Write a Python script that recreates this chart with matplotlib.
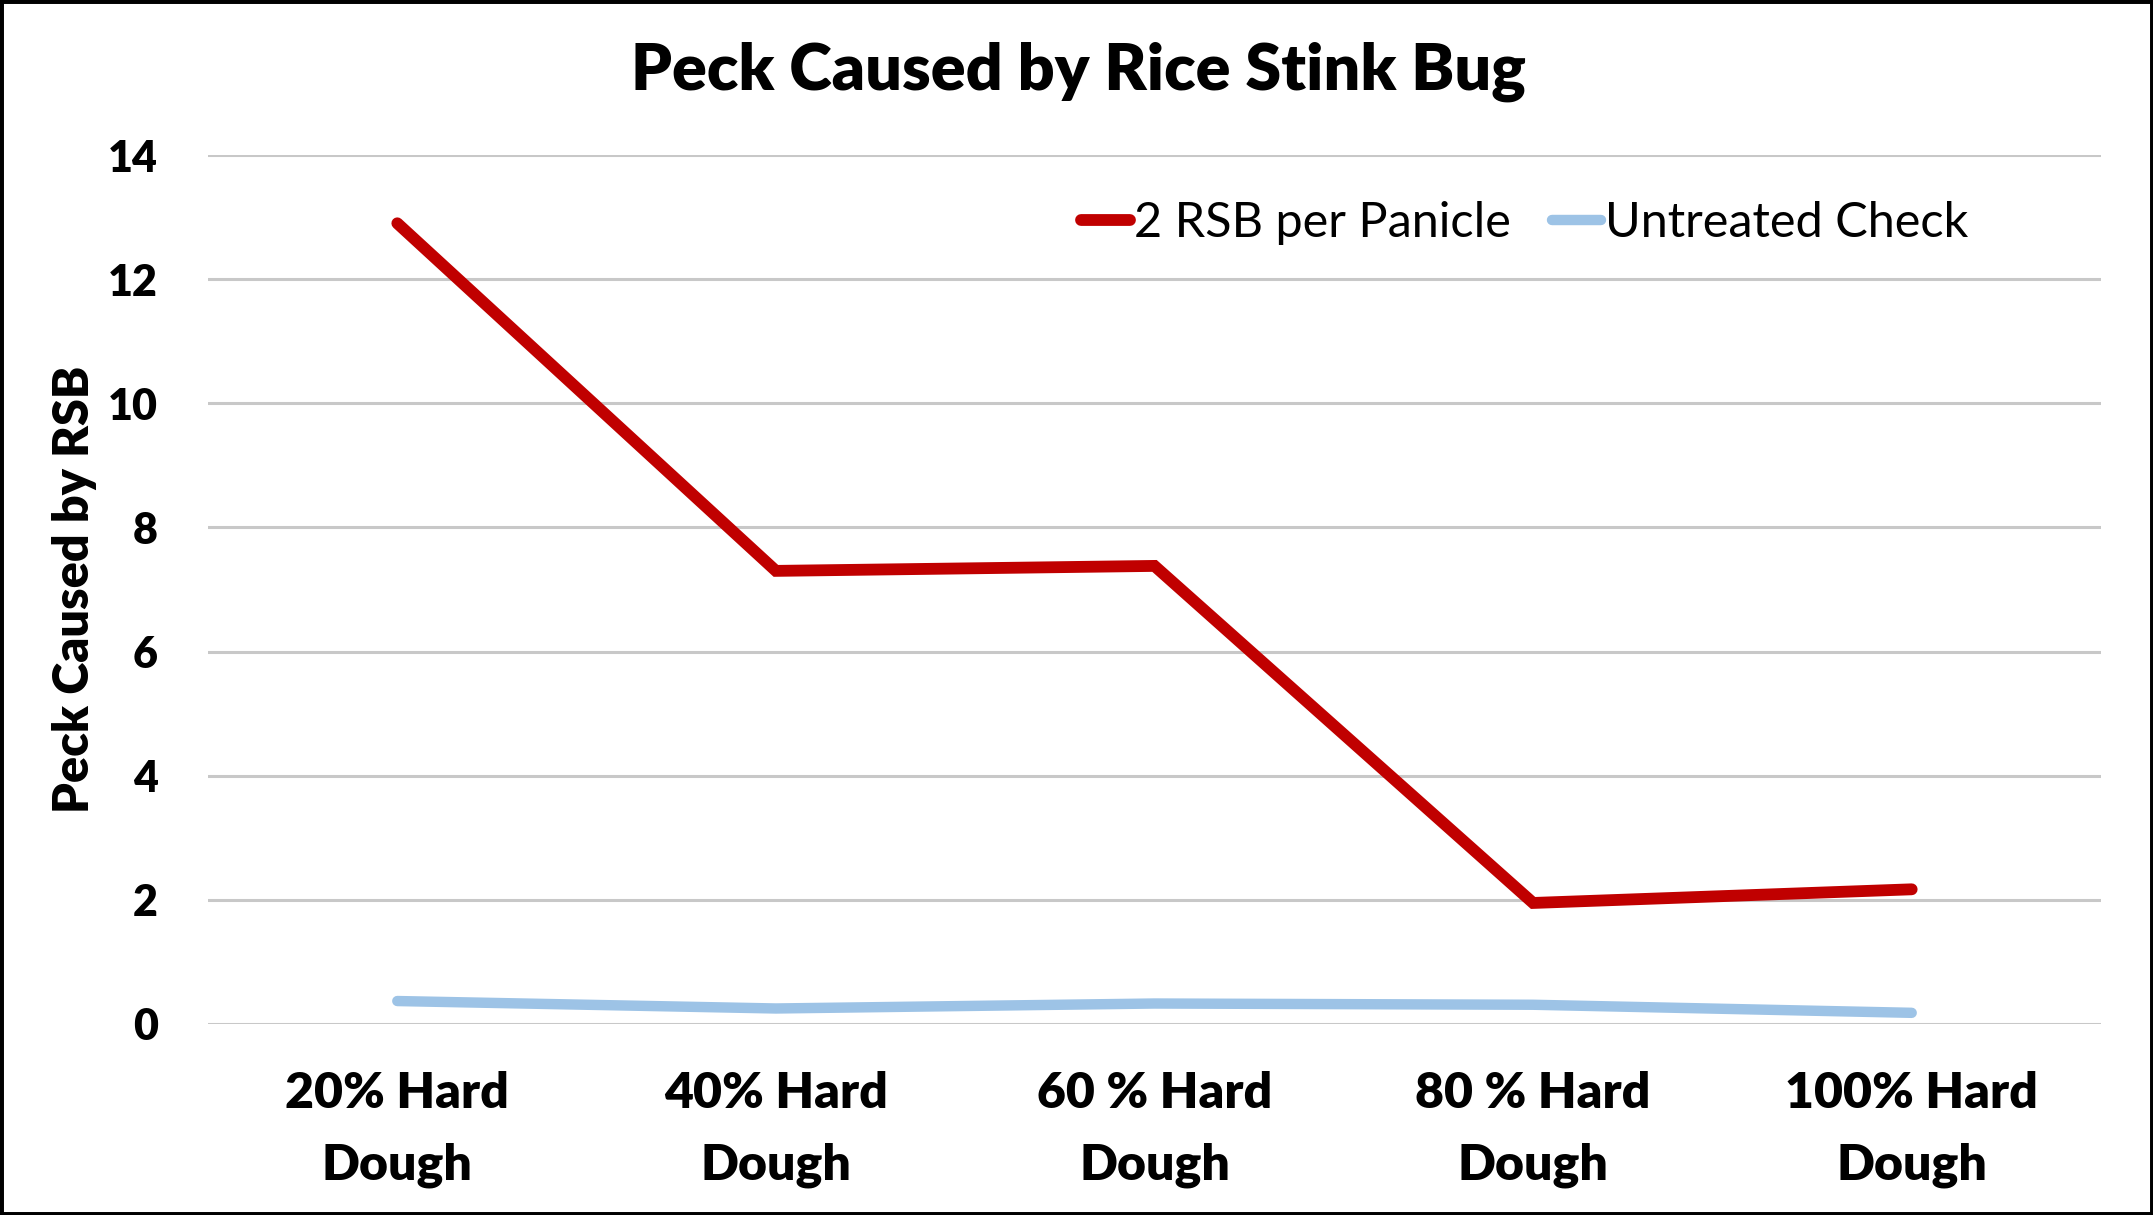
import matplotlib
matplotlib.use("Agg")
import matplotlib.pyplot as plt
from matplotlib.patches import Rectangle

categories = ["20% Hard\nDough", "40% Hard\nDough", "60 % Hard\nDough", "80 % Hard\nDough", "100% Hard\nDough"]
rsb_values = [12.9, 7.3, 7.38, 1.95, 2.17]
check_values = [0.37, 0.25, 0.33, 0.31, 0.18]
series_names = ["2 RSB per Panicle", "Untreated Check"]
yticks = [0, 2, 4, 6, 8, 10, 12, 14]

plt.rcParams['font.family'] = ['Lato', 'DejaVu Sans']

W, H = 2153, 1215
fig = plt.figure(figsize=(W / 100, H / 100), dpi=100)
ax = fig.add_axes([208 / W, 1 - 1024 / H, (2101 - 208) / W, (1024 - 155) / H])

x = list(range(len(categories)))
ax.plot(x, rsb_values, color='#C00000', lw=8.5, solid_capstyle='round',
        solid_joinstyle='miter', label=series_names[0], zorder=3)
ax.plot(x, check_values, color='#9DC3E6', lw=7.5, solid_capstyle='round',
        solid_joinstyle='miter', label=series_names[1], zorder=3)

ax.set_xlim(-0.5, len(categories) - 0.5)
ax.set_ylim(0, 14)
ax.set_yticks(yticks)
ax.set_yticklabels([str(v) for v in yticks], fontsize=31, fontweight='heavy')
ax.set_xticks(x)
ax.set_xticklabels(categories, fontsize=36, fontweight='heavy', linespacing=1.7)
ax.tick_params(axis='both', length=0)
ax.tick_params(axis='y', pad=36)
ax.tick_params(axis='x', pad=34)
ax.grid(axis='y', color='#C8C8C8', lw=2.2)
ax.set_axisbelow(True)
for s in ax.spines.values():
    s.set_visible(False)

ax.set_ylabel("Peck Caused by RSB", fontsize=35, fontweight='heavy', labelpad=8)

fig.text(1078 / W, 1 - 72 / H, "Peck Caused by Rice Stink Bug", fontsize=46.5,
         fontweight='heavy', ha='center', va='center')

leg = ax.legend(loc='center', bbox_to_anchor=(0.6955, 0.922), ncol=2, frameon=False,
                fontsize=35, handlelength=1.0, handletextpad=0.08, columnspacing=0.85)

fig.patches.append(Rectangle((0, 0), 1, 1, transform=fig.transFigure, fill=False,
                             edgecolor='black', lw=5, zorder=10))

fig.savefig("out.png", dpi=100)
